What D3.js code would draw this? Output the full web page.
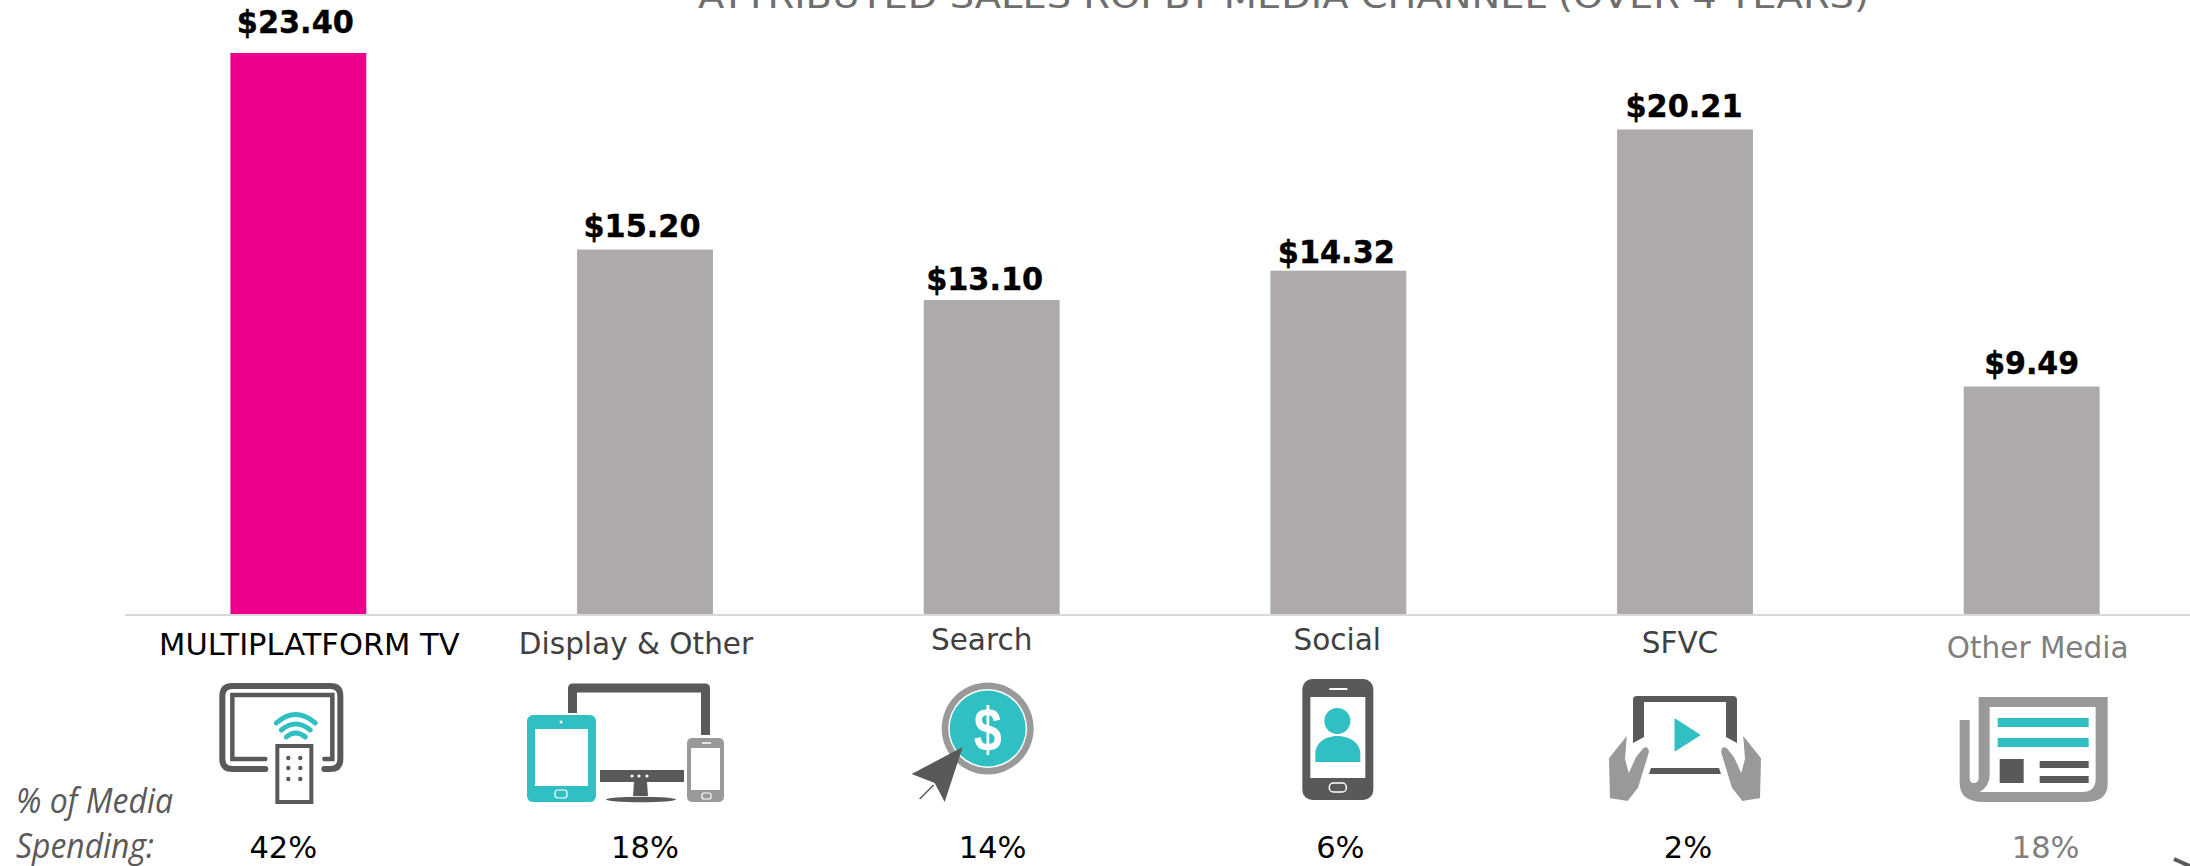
<!DOCTYPE html>
<html>
<head>
<meta charset="utf-8">
<script src="https://cdn.jsdelivr.net/npm/d3@7"></script>
<style>
body { margin: 0; background: #fff; overflow: hidden; }
text { font-family: "DejaVu Sans", sans-serif; }
</style>
</head>
<body>
<div id="chart-area"></div>
<script>
const titleText = "ATTRIBUTED SALES ROI BY MEDIA CHANNEL (OVER 4 YEARS)";
const categories = ["MULTIPLATFORM TV", "Display & Other", "Search", "Social", "SFVC", "Other Media"];
const roiValues = [23.40, 15.20, 13.10, 14.32, 20.21, 9.49];
const mediaShare = ["42%", "18%", "14%", "6%", "2%", "18%"];
const spendLabel = ["% of Media", "Spending:"];

// hand placed offsets, the original slide has its labels nudged around
const roiNudgeX = [-3, -3, -7, -2, -1, 0];
const roiGap = [20, 13, 10, 8, 12, 12];
const catNudgeX = [11, -9, -10, -1, -5, 6];
const catBaseline = [655, 654, 650, 650, 653, 658];
const shareNudgeX = [-15, 0, 1, 2, 3, 14];

const PINK = "#ee008c", BAR = "#aeaaaa", TEAL = "#30bfc3", DARK = "#595959", MID = "#999999";
const width = 2190, height = 866, baseline = 614, iconTop = 683;

const svg = d3.select("#chart-area").append("svg")
    .attr("width", width)
    .attr("height", height)
    .style("display", "block");

const x = d3.scaleBand()
    .domain(categories)
    .range([125, 2205])
    .paddingInner(0.608)
    .paddingOuter(0.304);

const y = d3.scaleLinear()
    .domain([0, 23.4])
    .range([baseline, 53]);

const mid = (d) => x(d) + x.bandwidth() / 2;

svg.append("text")
    .attr("x", 698)
    .attr("y", 7.5)
    .attr("textLength", 1171)
    .attr("lengthAdjust", "spacingAndGlyphs")
    .attr("font-size", 33)
    .attr("fill", "#6e6e6e")
    .text(titleText);

svg.selectAll(".bar")
    .data(categories)
    .enter().append("rect")
    .attr("class", "bar")
    .attr("x", (d) => x(d))
    .attr("width", x.bandwidth())
    .attr("y", (d, i) => y(roiValues[i]))
    .attr("height", (d, i) => baseline - y(roiValues[i]))
    .attr("fill", (d, i) => i === 0 ? PINK : BAR);

svg.append("line")
    .attr("x1", 125)
    .attr("x2", width)
    .attr("y1", baseline + 1)
    .attr("y2", baseline + 1)
    .attr("stroke", "#d9d9d9")
    .attr("stroke-width", 2);

svg.selectAll(".roi")
    .data(categories)
    .enter().append("text")
    .attr("class", "roi")
    .attr("x", (d, i) => mid(d) + roiNudgeX[i])
    .attr("y", (d, i) => y(roiValues[i]) - roiGap[i])
    .attr("text-anchor", "middle")
    .attr("font-size", 31.5)
    .attr("font-weight", "bold")
    .attr("textLength", (d, i) => i === 5 ? 95 : 117)
    .attr("lengthAdjust", "spacingAndGlyphs")
    .attr("fill", "#000")
    .attr("stroke", "#000")
    .attr("stroke-width", 0.4)
    .text((d, i) => "$" + roiValues[i].toFixed(2));

svg.selectAll(".cat")
    .data(categories)
    .enter().append("text")
    .attr("class", "cat")
    .attr("x", (d, i) => mid(d) + catNudgeX[i])
    .attr("y", (d, i) => catBaseline[i])
    .attr("text-anchor", "middle")
    .attr("font-size", (d, i) => i === 0 ? 30.5 : 29.5)
    .attr("fill", (d, i) => i === 0 ? "#000" : i === 5 ? "#7f7f7f" : "#404040")
    .text((d) => d);

svg.selectAll(".share")
    .data(categories)
    .enter().append("text")
    .attr("class", "share")
    .attr("x", (d, i) => mid(d) + shareNudgeX[i])
    .attr("y", 858)
    .attr("text-anchor", "middle")
    .attr("font-size", 30.5)
    .attr("fill", (d, i) => i === 5 ? "#7f7f7f" : "#000")
    .text((d, i) => mediaShare[i]);

svg.selectAll(".spend")
    .data(spendLabel)
    .enter().append("text")
    .attr("class", "spend")
    .attr("x", 16)
    .attr("y", (d, i) => i === 0 ? 813 : 858)
    .attr("textLength", (d, i) => i === 0 ? 157 : 138)
    .attr("lengthAdjust", "spacingAndGlyphs")
    .style("font-family", '"Open Sans", sans-serif')
    .style("font-style", "italic")
    .attr("font-size", 35)
    .attr("fill", DARK)
    .text((d) => d);

// icons, local coords: x from the middle of the band, y from iconTop
const iconDrawers = [
    function tvIcon(g) {
        g.append("path")
            .attr("d", "M-33,86 L-66,86 Q-76,86 -76,76 L-76,13 Q-76,3 -66,3 L32,3 Q42,3 42,13 L42,76 Q42,86 32,86 L26,86")
            .attr("fill", "none").attr("stroke", DARK).attr("stroke-width", 6).attr("stroke-linecap", "round");
        g.append("path")
            .attr("d", "M-33,76 L-66,76 L-66,12 L34,12 L34,76 L26,76")
            .attr("fill", "none").attr("stroke", DARK).attr("stroke-width", 4.5).attr("stroke-linecap", "round");
        g.append("rect")
            .attr("x", -21).attr("y", 63).attr("width", 34).attr("height", 56)
            .attr("fill", "#fff").attr("stroke", DARK).attr("stroke-width", 4);
        [75, 85, 96].forEach((cy) => {
            [-10, 2].forEach((cx) => {
                g.append("circle").attr("cx", cx).attr("cy", cy).attr("r", 2.2).attr("fill", DARK);
            });
        });
        ["M-22,40 Q-3,23 17,40", "M-17,47 Q-3,35 12,47", "M-12,54 Q-3,46 7,54"].forEach((d) => {
            g.append("path").attr("d", d)
                .attr("fill", "none").attr("stroke", TEAL).attr("stroke-width", 5).attr("stroke-linecap", "round");
        });
    },
    function devicesIcon(g) {
        g.append("path")
            .attr("d", "M-72.5,30 L-72.5,5 L60.5,5 L60.5,52")
            .attr("fill", "none").attr("stroke", DARK).attr("stroke-width", 9).attr("stroke-linejoin", "round");
        // tablet
        g.append("rect").attr("x", -118).attr("y", 32).attr("width", 69).attr("height", 87).attr("rx", 6).attr("fill", TEAL);
        g.append("rect").attr("x", -110).attr("y", 46).attr("width", 53).attr("height", 57).attr("fill", "#fff");
        g.append("circle").attr("cx", -84).attr("cy", 39).attr("r", 1.5).attr("fill", "#fff");
        g.append("rect").attr("x", -90).attr("y", 107).attr("width", 12).attr("height", 8).attr("rx", 3)
            .attr("fill", "none").attr("stroke", "#fff").attr("stroke-width", 1.2);
        // monitor
        g.append("rect").attr("x", -45).attr("y", 87).attr("width", 84).attr("height", 12).attr("fill", DARK);
        [-13, -6, 2].forEach((cx) => {
            g.append("circle").attr("cx", cx).attr("cy", 93).attr("r", 1.6).attr("fill", "#fff");
        });
        g.append("path").attr("d", "M-11,99 L2,99 L3,113 L-12,113 Z").attr("fill", DARK);
        g.append("ellipse").attr("cx", -4).attr("cy", 116.5).attr("rx", 35).attr("ry", 2.8).attr("fill", DARK);
        // phone
        g.append("rect").attr("x", 42).attr("y", 55).attr("width", 37).attr("height", 64).attr("rx", 5).attr("fill", MID);
        g.append("rect").attr("x", 46).attr("y", 65).attr("width", 29).attr("height", 42).attr("fill", "#fff");
        g.append("line").attr("x1", 57).attr("x2", 66).attr("y1", 60).attr("y2", 60).attr("stroke", "#fff").attr("stroke-width", 1.5);
        g.append("rect").attr("x", 57).attr("y", 110).attr("width", 9).attr("height", 6).attr("rx", 2)
            .attr("fill", "none").attr("stroke", "#fff").attr("stroke-width", 1.2);
    },
    function searchIcon(g) {
        g.append("circle").attr("cx", -4).attr("cy", 45.5).attr("r", 46).attr("fill", MID);
        g.append("circle").attr("cx", -4).attr("cy", 45.5).attr("r", 39.5).attr("fill", "#fff");
        g.append("circle").attr("cx", -4).attr("cy", 45.5).attr("r", 38).attr("fill", TEAL);
        g.append("path").attr("d", "M-58,102 L-72,116").attr("stroke", DARK).attr("stroke-width", 1.5);
        g.append("path").attr("d", "M-29,64 L-80,91 L-57,100 L-47,119 Z")
            .attr("fill", DARK);
    },
    function socialIcon(g) {
        g.append("rect").attr("x", -36).attr("y", -4).attr("width", 71).attr("height", 121).attr("rx", 10).attr("fill", DARK);
        g.append("rect").attr("x", -28).attr("y", 14).attr("width", 55).attr("height", 81).attr("fill", "#fff");
        g.append("line").attr("x1", -9).attr("x2", 9).attr("y1", 6).attr("y2", 6).attr("stroke", "#fff").attr("stroke-width", 2);
        g.append("rect").attr("x", -9).attr("y", 100).attr("width", 17).attr("height", 9).attr("rx", 4)
            .attr("fill", "none").attr("stroke", "#fff").attr("stroke-width", 1.5);
        g.append("ellipse").attr("cx", -1).attr("cy", 38).attr("rx", 13).attr("ry", 13).attr("fill", TEAL);
        g.append("path").attr("d", "M-23,79 L-23,71 C-23,59 -12,53 -1,53 C10,53 22,59 22,71 L22,79 Z").attr("fill", TEAL);
    },
    function videoIcon(g) {
        g.append("path").attr("d", "M-52,60 L-52,17 Q-52,13 -48,13 L48,13 Q52,13 52,17 L52,60 L41,54 L41,19 L-41,19 L-41,54 Z")
            .attr("fill", DARK);
        g.append("path").attr("d", "M-34,85 L34,85 L36,91 L-36,91 Z").attr("fill", DARK);
        g.append("path").attr("d", "M-10,36 L15,52 L-10,68 Z")
            .attr("fill", TEAL).attr("stroke", TEAL).attr("stroke-width", 1).attr("stroke-linejoin", "round");
        // the hands are mirrored around the band middle
        const hand = "M-57,50 L-77,75 L-76,116 L-57,119 L-46,105 L-35,69 Q-36,61 -42,64 L-50,74 L-56,87 L-59,76 Z";
        g.append("path").attr("d", hand).attr("fill", MID).attr("stroke", "#fff").attr("stroke-width", 2);
        g.append("path").attr("d", hand).attr("transform", "scale(-1,1)").attr("fill", MID).attr("stroke", "#fff").attr("stroke-width", 2);
    },
    function paperIcon(g) {
        g.append("path")
            .attr("d", "M-53,14 L76,14 L76,101 Q76,119 53,119 L-48,119 Q-72,119 -72,100 L-72,37 L-62,37 L-62,95 Q-62,100 -58,100 Q-53,100 -53,95 Z")
            .attr("fill", MID);
        g.append("path")
            .attr("d", "M-42,24 L64,24 L64,96 Q64,109 50,109 L-52,109 Q-42,103 -42,92 Z")
            .attr("fill", "#fff");
        [35, 55].forEach((ty) => {
            g.append("rect").attr("x", -34).attr("y", ty).attr("width", 91).attr("height", 9).attr("fill", TEAL);
        });
        g.append("rect").attr("x", -32).attr("y", 76).attr("width", 24).attr("height", 24).attr("fill", DARK);
        [78, 93].forEach((ty) => {
            g.append("rect").attr("x", 8).attr("y", ty).attr("width", 49).attr("height", 7).attr("fill", DARK);
        });
    }
];

svg.selectAll(".icon")
    .data(categories)
    .enter().append("g")
    .attr("class", "icon")
    .attr("transform", (d) => "translate(" + mid(d) + "," + iconTop + ")")
    .each(function (d, i) {
        iconDrawers[i](d3.select(this));
    });

// dollar sign of the search icon
svg.append("text")
    .attr("x", mid("Search") - 4)
    .attr("y", iconTop + 67)
    .attr("text-anchor", "middle")
    .attr("textLength", 28)
    .attr("lengthAdjust", "spacingAndGlyphs")
    .style("font-family", '"Liberation Sans", sans-serif')
    .attr("font-weight", "bold")
    .attr("font-size", 62)
    .attr("fill", "#fff")
    .text("$");

// bit of some other slide element, cut by the page corner
svg.append("line")
    .attr("x1", 2174)
    .attr("y1", 859)
    .attr("x2", 2192)
    .attr("y2", 867)
    .attr("stroke", DARK)
    .attr("stroke-width", 4);
</script>
</body>
</html>
